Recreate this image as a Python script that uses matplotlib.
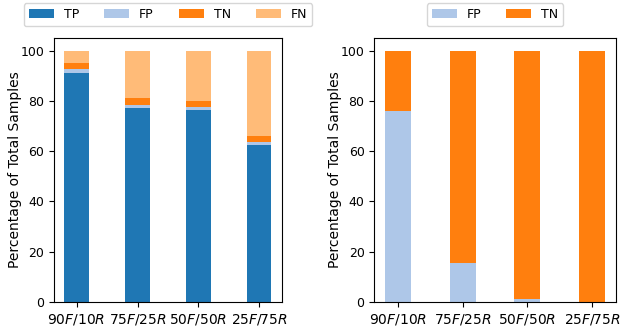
import matplotlib.pyplot as plt
import numpy as np

# mixes of fake / real samples
mixes = [r'90$F$/10$R$', r'75$F$/25$R$', r'50$F$/50$R$', r'25$F$/75$R$']

# left panel: percentage of total samples
tp = [91.2, 77.3, 76.2, 62.5]
fp = [1.6, 1.2, 1.2, 1.1]
tn = [2.3, 2.7, 2.4, 2.6]
fn = [4.9, 18.8, 20.2, 33.8]

# right panel
fp_r = [76.1, 15.4, 1.2, 0.0]
tn_r = [23.9, 84.6, 98.8, 100.0]

colors = {'TP': '#1f77b4', 'FP': '#aec7e8', 'TN': '#ff7f0e', 'FN': '#ffbb78'}

fig = plt.figure(figsize=(6.29, 3.31), dpi=100)
ax1 = fig.add_axes([0.086, 0.088, 0.362, 0.797])
ax2 = fig.add_axes([0.595, 0.088, 0.384, 0.797])

x = np.arange(len(mixes))
w = 0.4

bottom = np.zeros(len(mixes))
for name, vals in [('TP', tp), ('FP', fp), ('TN', tn), ('FN', fn)]:
    ax1.bar(x, vals, w, bottom=bottom, color=colors[name], label=name)
    bottom += np.array(vals)

bottom = np.zeros(len(mixes))
for name, vals in [('FP', fp_r), ('TN', tn_r)]:
    ax2.bar(x, vals, w, bottom=bottom, color=colors[name], label=name)
    bottom += np.array(vals)

for ax in (ax1, ax2):
    ax.set_xticks(x)
    ax.set_xticklabels(mixes, fontsize=10)
    ax.set_ylabel('Percentage of Total Samples', fontsize=10, labelpad=-1)
    ax.set_yticks([0, 20, 40, 60, 80, 100])
    ax.tick_params(axis='y', labelsize=9)

ax1.legend(loc='lower center', bbox_to_anchor=(0.5, 1.045), ncol=4, fontsize=9,
           borderaxespad=0)
ax2.legend(loc='lower center', bbox_to_anchor=(0.5, 1.045), ncol=2, fontsize=9,
           borderaxespad=0)

fig.savefig('out.png', dpi=100)
